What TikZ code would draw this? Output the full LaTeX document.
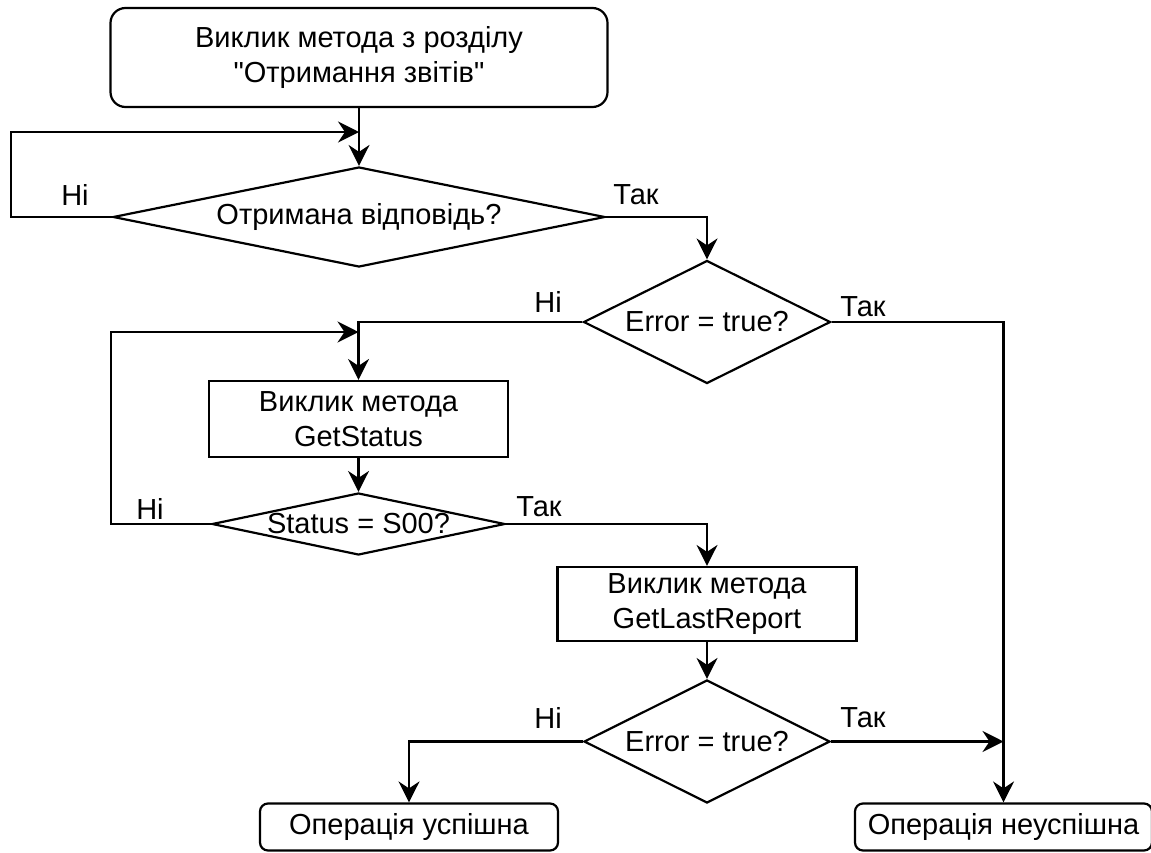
\documentclass[tikz,border=0pt]{standalone}
\usepackage{fontspec}
\setmainfont{Liberation Sans}
\usetikzlibrary{shapes.geometric,arrows.meta}
\begin{document}
\begin{tikzpicture}[x=1pt,y=-1pt,
  every node/.style={font=\fontsize{29}{35}\selectfont},
  line/.style={line width=2.2pt, line join=miter},
  arr/.style={line, -{Stealth[length=21pt,width=21pt,inset=7pt]}},
  startbox/.style={draw, line width=2.2pt, rounded corners=15pt, align=center, inner sep=0pt},
  endbox/.style={draw, line width=2.2pt, rounded corners=8pt, align=center, inner sep=0pt},
  procbox/.style={draw, line width=2.2pt, align=center, inner sep=0pt},
  decision/.style={draw, diamond, line width=2.2pt, inner sep=0pt, align=center},
  lbl/.style={inner sep=0pt}
]
\useasboundingbox (0,0) rectangle (1151,852);

\node[startbox, minimum width=497pt, minimum height=99pt] (start) at (359,57.5) {Виклик метода з розділу\\\textquotedbl Отримання звітів\textquotedbl};
\node[decision, minimum width=492pt, minimum height=100pt, aspect=4.92] (d1) at (359,217) {Отримана відповідь?};
\node[decision, minimum width=247pt, minimum height=123pt, aspect=2] (d2) at (707,322) {Error = true?};
\node[procbox, minimum width=299pt, minimum height=76pt] (r1) at (358.5,419) {Виклик метода\\GetStatus};
\node[decision, minimum width=293pt, minimum height=62pt, aspect=4.7] (d3) at (358.5,524) {Status = S00?};
\node[procbox, minimum width=299pt, minimum height=74pt] (r2) at (707,604) {Виклик метода\\GetLastReport};
\node[decision, minimum width=246pt, minimum height=123pt, aspect=2] (d4) at (707,741.5) {Error = true?};
\node[endbox, minimum width=298pt, minimum height=47pt] (ok) at (409,827) {Операція успішна};
\node[endbox, minimum width=297pt, minimum height=47pt] (fail) at (1003.5,827) {Операція неуспішна};

\coordinate (j1) at (359,132);
\coordinate (j2) at (358.5,332);
\coordinate (j3) at (1003.5,741.5);

\draw[arr] (start.south) -- (d1.north);
\draw[arr] (d1.west) -- (11,217) |- (j1);
\draw[arr] (d1.east) -| (d2.north);
\draw[arr] (d2.west) -| (r1.north);
\draw[arr] (d2.east) -| (fail.north);
\draw[arr] (r1.south) -- (d3.north);
\draw[arr] (d3.west) -- (111,524) |- (j2);
\draw[arr] (d3.east) -| (r2.north);
\draw[arr] (r2.south) -- (d4.north);
\draw[arr] (d4.west) -| (ok.north);
\draw[arr] (d4.east) -- (j3);

\node[lbl] (l1) at (75,195) {Ні};
\node[lbl] (l2) at (636,195) {Так};
\node[lbl] (l3) at (548,302) {Ні};
\node[lbl] (l4) at (863,307) {Так};
\node[lbl] (l5) at (150,509) {Ні};
\node[lbl] (l6) at (539,507) {Так};
\node[lbl] (l7) at (548,718) {Ні};
\node[lbl] (l8) at (863,718) {Так};
\end{tikzpicture}
\end{document}
